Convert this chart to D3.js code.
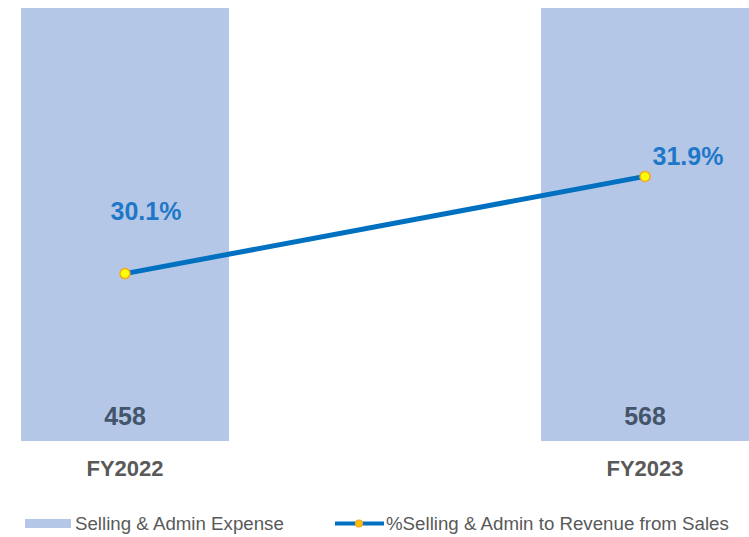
<!DOCTYPE html>
<html>
<head>
<meta charset="utf-8">
<script src="https://cdn.jsdelivr.net/npm/d3@7.9.0/dist/d3.min.js"></script>
<style>
  body { margin: 0; background: #fff; }
  svg { display: block; font-family: "Liberation Sans", Arial, sans-serif; }
</style>
</head>
<body>
<div id="chart"></div>
<script>
// data
const years = ['FY2022', 'FY2023'];
const expense = [458, 568];
const ratio = [30.1, 31.9];
const seriesNames = ['Selling & Admin Expense', '%Selling & Admin to Revenue from Sales'];

const width = 749;
const height = 537;
const area = { top: 8, bottom: 441, left: 21, right: 749 };

const svg = d3.select('#chart')
  .append('svg')
  .attr('width', width)
  .attr('height', height);

const x = d3.scaleBand()
  .domain(years)
  .range([area.left, area.right])
  .paddingInner(0.6)
  .paddingOuter(0);

// bar axis is cut off at the top in the original, so the bars run past it
const yBar = d3.scaleLinear().domain([0, 400]).range([area.bottom, area.top]).clamp(true);
const yPct = d3.scaleLinear().domain([27, 35]).range([area.bottom, area.top + 1]);

const rows = years.map((d, i) => ({ year: d, value: expense[i], pct: ratio[i] }));

// bars
svg.append('g')
  .selectAll('rect')
  .data(rows)
  .join('rect')
  .attr('x', d => x(d.year))
  .attr('y', d => yBar(d.value))
  .attr('width', x.bandwidth())
  .attr('height', d => yBar(0) - yBar(d.value))
  .attr('fill', '#B4C7E7');

// bar values
svg.append('g')
  .selectAll('text')
  .data(rows)
  .join('text')
  .attr('x', d => x(d.year) + x.bandwidth() / 2)
  .attr('y', area.bottom - 16)
  .attr('text-anchor', 'middle')
  .attr('font-size', 25)
  .attr('font-weight', 'bold')
  .attr('fill', '#44546A')
  .text(d => d.value);

// category axis labels
svg.append('g')
  .attr('transform', `translate(0, ${area.bottom})`)
  .call(d3.axisBottom(x).tickSize(0).tickPadding(19))
  .call(g => g.select('.domain').remove())
  .selectAll('text')
  .attr('font-family', '"Liberation Sans", Arial, sans-serif')
  .attr('font-size', 22)
  .attr('font-weight', 'bold')
  .attr('fill', '#595959');

// line
const cx = d => x(d.year) + x.bandwidth() / 2;
const line = d3.line().x(cx).y(d => yPct(d.pct));

svg.append('path')
  .datum(rows)
  .attr('d', line)
  .attr('fill', 'none')
  .attr('stroke', '#0070C0')
  .attr('stroke-width', 5);

svg.append('g')
  .selectAll('circle')
  .data(rows)
  .join('circle')
  .attr('cx', cx)
  .attr('cy', d => yPct(d.pct))
  .attr('r', 5)
  .attr('fill', '#FFFF00')
  .attr('stroke', '#F5A623')
  .attr('stroke-width', 1.5);

// percentage labels, placed by hand in the original
const labelShift = [[21, -54], [43, -11]];
svg.append('g')
  .selectAll('text')
  .data(rows)
  .join('text')
  .attr('x', (d, i) => cx(d) + labelShift[i][0])
  .attr('y', (d, i) => yPct(d.pct) + labelShift[i][1])
  .attr('text-anchor', 'middle')
  .attr('font-size', 25)
  .attr('font-weight', 'bold')
  .attr('fill', '#1F77C8')
  .text(d => d.pct.toFixed(1) + '%');

// legend
const legend = svg.append('g').attr('font-size', 18.7).attr('fill', '#595959');

legend.append('rect')
  .attr('x', 25).attr('y', 519).attr('width', 46).attr('height', 9)
  .attr('fill', '#B4C7E7');
legend.append('text')
  .attr('x', 75).attr('y', 530)
  .text(seriesNames[0]);

legend.append('line')
  .attr('x1', 335).attr('x2', 384).attr('y1', 523.5).attr('y2', 523.5)
  .attr('stroke', '#0070C0').attr('stroke-width', 4);
legend.append('circle')
  .attr('cx', 359).attr('cy', 523.5).attr('r', 3.5)
  .attr('fill', '#FFC000').attr('stroke', '#F5A623').attr('stroke-width', 1.2);
legend.append('text')
  .attr('x', 386).attr('y', 530)
  .text(seriesNames[1]);
</script>
</body>
</html>
